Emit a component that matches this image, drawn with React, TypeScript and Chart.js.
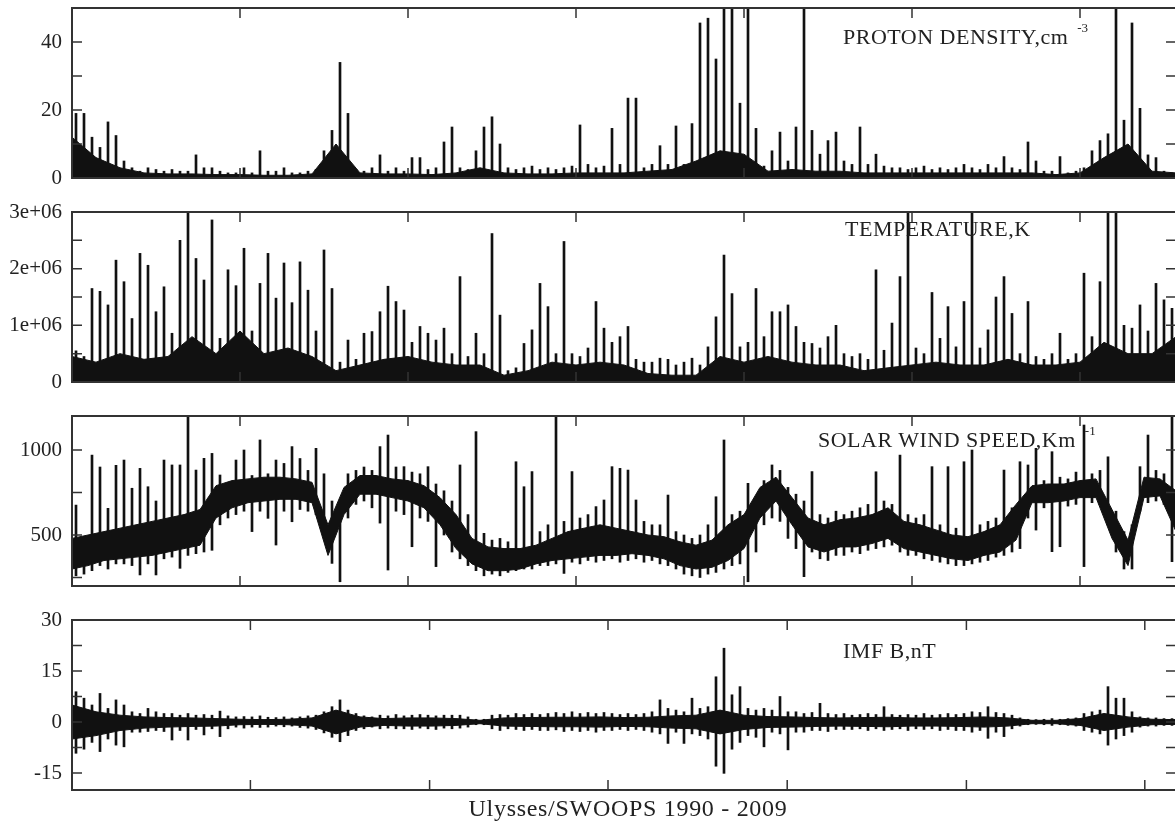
import React, { useEffect, useRef } from "react";
import { Chart, registerables } from "chart.js";

Chart.register(...registerables);

const FONT = '"Liberation Serif", "Times New Roman", serif';
const INK = "#111";
const FRAME = "#333";
const TEXT = "#222";

// x axis: 138 time bins across the mission (1990 - 2009)
const X_MAX = 138;
const X_TICKS_UPPER = [21, 42, 63, 84, 105, 126];
const X_TICKS_IMF = [22.3, 44.7, 67, 89.4, 111.8, 134.1];

// ---------------- PROTON DENSITY (cm^-3) ----------------
const DENSITY_PEAKS = [
  19, 19, 12, 9, 16.5, 12.5, 5, 3, 2, 3,
  2.5, 2, 2.5, 2, 2, 6.8, 3, 3, 2, 1.5,
  1.5, 3, 1.5, 8, 2, 2, 3, 1.5, 1.5, 2,
  2.5, 8, 14, 34, 19, 2.5, 2, 3, 6.8, 2,
  3, 2, 6, 6, 2.5, 3, 10.6, 15, 3, 2.5,
  8, 15, 18, 10, 3, 2.5, 3, 3.5, 2.5, 3,
  2.5, 3, 3.5, 15.6, 4, 3, 3.5, 14.6, 4, 23.5,
  23.5, 3, 4, 9.5, 4, 15.3, 4, 16, 45.6, 47,
  35, 55, 55, 22, 55, 14.6, 3.5, 8, 13.5, 5,
  15, 55, 14, 7, 11, 13.5, 5, 4, 15, 4,
  7, 3.5, 3, 3, 2.5, 3, 3.5, 2.5, 3, 2.5,
  3, 4, 3, 2.5, 4, 3, 6.3, 3, 2.5, 10.6,
  5, 2, 2, 6.3, 1.5, 2, 3, 8, 11, 13,
  55, 17, 45.6, 20.5, 6.8, 6, 2, 1.5,
];
const DENSITY_CORE = [
  12, 6, 3, 1.5, 1.2, 1.2, 1, 1, 0.8, 0.8,
  1.2, 10, 1.5, 1.2, 1.2, 1, 1.5, 3, 1.5, 1.2,
  1.2, 1.5, 1.5, 1.5, 2, 2.5, 5, 8, 7, 2,
  2.5, 2, 2, 1.5, 1.5, 1.5, 1.5, 1.5, 1.5, 1.5,
  1.5, 1, 1.5, 6, 10, 2, 1.5,
];
const DENSITY_Y_LABELS = [0, 20, 40];
const DENSITY_Y_TICKS = [10, 20, 30, 40];

// ---------------- TEMPERATURE (in units of 1e6 K) ----------------
const TEMP_PEAKS_MK = [
  0.55, 0.45, 1.65, 1.6, 1.36, 2.15, 1.77, 1.12, 2.27, 2.06,
  1.24, 1.68, 0.86, 2.5, 3.2, 2.18, 1.8, 2.86, 0.77, 1.98,
  1.7, 2.36, 0.9, 1.74, 2.27, 1.48, 2.1, 1.4, 2.12, 1.62,
  0.9, 2.33, 1.65, 0.35, 0.74, 0.4, 0.86, 0.89, 1.24, 1.69,
  1.42, 1.27, 0.7, 0.98, 0.86, 0.74, 0.95, 0.5, 1.86, 0.45,
  0.86, 0.5, 2.62, 1.18, 0.2, 0.25, 0.68, 0.92, 1.74, 1.33,
  0.5, 2.48, 0.5, 0.45, 0.6, 1.42, 0.95, 0.7, 0.8, 0.98,
  0.4, 0.35, 0.35, 0.42, 0.4, 0.3, 0.35, 0.42, 0.3, 0.62,
  1.15, 2.24, 1.56, 0.62, 0.7, 1.65, 0.8, 1.24, 1.24, 1.36,
  0.98, 0.7, 0.68, 0.6, 0.8, 1.0, 0.5, 0.45, 0.5, 0.4,
  1.98, 0.56, 1.04, 1.86, 3.2, 0.6, 0.5, 1.58, 0.77, 1.33,
  0.62, 1.42, 3.2, 0.6, 0.92, 1.5, 1.86, 1.21, 0.5, 1.42,
  0.45, 0.4, 0.5, 0.86, 0.4, 0.5, 1.92, 0.8, 1.77, 3.2,
  3.2, 1.0, 0.95, 1.36, 0.9, 1.74, 1.45, 1.3,
];
const TEMP_CORE_MK = [
  0.45, 0.35, 0.5, 0.4, 0.45, 0.8, 0.5, 0.9, 0.5, 0.6,
  0.45, 0.2, 0.3, 0.4, 0.45, 0.35, 0.3, 0.3, 0.12, 0.2,
  0.35, 0.3, 0.35, 0.3, 0.15, 0.12, 0.12, 0.45, 0.35, 0.45,
  0.35, 0.3, 0.3, 0.2, 0.25, 0.3, 0.35, 0.3, 0.3, 0.4,
  0.3, 0.3, 0.35, 0.7, 0.5, 0.5, 0.8,
];
const TEMP_Y_LABELS = [0, 1, 2, 3];
const TEMP_Y_TICKS = [0.5, 1, 1.5, 2, 2.5];

// ---------------- SOLAR WIND SPEED (km/s) ----------------
const SPEED_MAX = [
  676, 480, 970, 900, 657, 910, 941, 775, 892, 784,
  700, 941, 912, 912, 1250, 882, 951, 980, 853, 800,
  941, 1000, 850, 1059, 860, 941, 921, 1020, 950, 880,
  1010, 860, 700, 680, 860, 880, 900, 880, 1020, 1088,
  900, 902, 870, 860, 902, 800, 760, 700, 912, 620,
  1108, 510, 470, 480, 460, 931, 784, 873, 520, 560,
  1250, 580, 873, 600, 620, 667, 706, 902, 892, 882,
  706, 580, 560, 560, 735, 520, 500, 480, 500, 560,
  725, 1059, 620, 640, 804, 700, 820, 912, 880, 780,
  740, 700, 873, 620, 600, 640, 620, 640, 660, 680,
  872, 700, 680, 970, 620, 600, 620, 902, 560, 902,
  540, 931, 1000, 560, 580, 600, 882, 660, 931, 912,
  1010, 820, 990, 840, 830, 870, 1147, 860, 880, 960,
  640, 520, 560, 902, 1088, 880, 860, 1250,
];
const SPEED_MIN = [
  260, 270, 290, 320, 300, 330, 330, 320, 265, 330,
  265, 360, 370, 304, 380, 390, 400, 410, 560, 600,
  620, 640, 520, 640, 598, 441, 640, 578, 650, 640,
  620, 500, 333, 225, 600, 680, 700, 660, 570, 294,
  640, 620, 431, 600, 580, 314, 500, 400, 360, 320,
  290, 260, 270, 260, 280, 290, 300, 300, 320, 320,
  330, 274, 340, 330, 350, 340, 350, 360, 340, 350,
  360, 340, 350, 330, 320, 300, 270, 260, 250, 270,
  280, 300, 320, 330, 225, 400, 560, 600, 580, 480,
  420, 255, 400, 360, 350, 380, 380, 400, 390, 410,
  420, 430, 440, 400, 380, 380, 360, 350, 340, 330,
  320, 320, 330, 340, 350, 370, 380, 400, 420, 600,
  529, 660, 402, 431, 670, 680, 314, 690, 680, 560,
  400, 300, 300, 640, 690, 700, 680, 343,
];
const SPEED_CORE_LO = [
  300, 320, 350, 360, 370, 380, 400, 420, 440, 600,
  660, 690, 700, 710, 710, 690, 380, 620, 740, 740,
  720, 700, 660, 560, 420, 330, 290, 290, 300, 330,
  350, 360, 370, 380, 380, 390, 380, 360, 320, 300,
  310, 350, 420, 600, 700, 560, 430, 400, 430, 430,
  450, 480, 420, 400, 380, 360, 350, 380, 400, 470,
  690, 690, 700, 720, 720, 480, 320, 720, 730, 520,
];
const SPEED_CORE_HI = [
  480, 500, 520, 540, 560, 580, 600, 620, 650, 790,
  820, 830, 840, 840, 830, 810, 560, 780, 850, 850,
  830, 820, 790, 720, 620, 480, 430, 420, 420, 440,
  480, 520, 540, 560, 540, 520, 500, 490, 460, 440,
  470, 560, 620, 780, 840, 720, 600, 560, 590, 600,
  620, 660, 580, 560, 530, 500, 490, 520, 560, 680,
  790, 800, 800, 820, 830, 650, 470, 840, 830, 760,
];
const SPEED_Y_LABELS = [500, 1000];
const SPEED_Y_TICKS = [250, 500, 750, 1000];

// ---------------- IMF B (nT) ----------------
const IMF_MAX = [
  8.9, 7, 5, 8.4, 4, 6.5, 5, 3, 2.5, 4,
  3, 2.5, 2.5, 2, 2.5, 2, 2.2, 2, 3.2, 1.8,
  1.5, 1.6, 1.5, 1.8, 1.4, 1.3, 1.5, 1.2, 1.5, 1.8,
  2, 3, 4.5, 6.5, 3.5, 2.5, 1.8, 1.5, 2, 1.8,
  2.2, 1.8, 2, 2.2, 2, 1.8, 2, 2, 2, 1.5,
  0.8, 0.8, 2, 2.2, 2, 2.5, 2.2, 2.5, 2.2, 2.5,
  2.8, 2.5, 3, 2.5, 2.8, 2.5, 2.8, 2.5, 2.2, 2.5,
  2.2, 2.5, 3, 6.5, 4, 3.5, 3, 7, 4, 4.5,
  13.3, 21.7, 8, 10.4, 4, 3.5, 4, 3.5, 7.5, 3,
  3, 2.5, 2.8, 5.5, 2.5, 2.2, 2.5, 2, 2.2, 2.5,
  2.2, 4.5, 2.2, 2, 2.2, 2, 2.5, 2, 2.2, 2.5,
  2.2, 2.5, 3, 2.8, 4.5, 2.8, 2.5, 2, 1.2, 0.8,
  0.7, 0.8, 1, 0.8, 1, 1.2, 2.5, 3, 3.5, 10.4,
  7, 7, 3, 1.5, 1.2, 1.2, 1, 1,
];
const IMF_MIN = [
  -9.2, -8, -6, -8.7, -5, -6.8, -7.3, -3, -3, -2.8,
  -2.5, -2.8, -5.3, -2.5, -5.3, -2.2, -3.8, -2, -4.3, -2,
  -1.5, -1.8, -1.5, -1.6, -1.5, -1.2, -1.4, -1.2, -1.6, -1.8,
  -2.2, -3.2, -4.5, -5.8, -4, -2.5, -2, -1.5, -2, -1.8,
  -2, -2, -2.2, -1.8, -2, -2.2, -1.8, -2, -1.8, -1.5,
  -0.8, -0.8, -2, -2.5, -2, -2.2, -2.5, -2.2, -2.5, -2.5,
  -2.3, -2.8, -2.5, -2.8, -2.5, -3, -2.5, -2.5, -2.2, -2.5,
  -2.2, -2.5, -3, -3.5, -6.3, -3, -6.3, -3.5, -4, -5,
  -13, -15.1, -8, -6, -4, -4.5, -7.3, -3, -3.5, -8.2,
  -3, -3, -2.5, -2.5, -2.8, -2.2, -2.2, -2.2, -2, -2.5,
  -2, -2.5, -2.2, -2, -2.5, -2, -2.2, -2, -2.5, -2.2,
  -2.5, -2.5, -3, -2.5, -4.8, -3, -4.3, -2, -1.2, -0.8,
  -0.7, -0.8, -1, -0.8, -1, -1.2, -2.5, -3, -3.5, -6.8,
  -5, -4, -3, -1.5, -1.2, -1.2, -1, -1,
];
const IMF_CORE_HI = [
  5, 3, 2, 1.5, 1.3, 1.2, 1, 0.8, 0.7, 0.8,
  1.2, 3.5, 1.5, 1, 1.2, 1.2, 1, 0.5, 1.2, 1.3,
  1.4, 1.4, 1.5, 1.3, 1.4, 1.8, 2, 3.5, 2, 1.6,
  1.5, 1.3, 1.2, 1.3, 1.4, 1.2, 1.2, 1.3, 1.5, 1.2,
  0.5, 0.5, 1, 2.5, 1.5, 0.8, 0.7,
];
const IMF_CORE_LO = [
  -5, -4, -2.5, -1.8, -1.5, -1.3, -1.2, -0.8, -0.7, -0.8,
  -1.2, -3.5, -1.5, -1, -1.2, -1.2, -1, -0.5, -1.2, -1.3,
  -1.4, -1.4, -1.5, -1.3, -1.4, -1.8, -2, -3.5, -2.2, -1.6,
  -1.5, -1.3, -1.2, -1.3, -1.4, -1.2, -1.2, -1.3, -1.5, -1.2,
  -0.5, -0.5, -1, -2.5, -1.5, -0.8, -0.7,
];
const IMF_Y_LABELS = [-15, 0, 15, 30];
const IMF_Y_TICKS = [-15, -7.5, 0, 7.5, 15, 22.5];

// ---------------- layout ----------------
const CANVAS_W = 1180;
const PAD = 14;
const PLOT_H = 170;
const CANVAS_H = PLOT_H + 2 * PAD;
const AXIS_W = 72;
const PLOT_RIGHT = 1176;
const TICK_LEN = 10;

function gnuplotExp(mk: number): string {
  if (mk === 0) return "0";
  const s = (mk * 1e6).toExponential(0); // "1e+6"
  return s.replace(/e([+-])(\d)$/, "e$10$2");
}

type PanelSpec = {
  top: number;
  yMin: number;
  yMax: number;
  yLabels: number[];
  yTicks: number[];
  xTicks: number[];
  peaks: number[];
  troughs?: number[];
  coreStep: number;
  coreHi: number[];
  coreLo?: number[];
  fmt: (v: number) => string;
};

const PANELS: PanelSpec[] = [
  {
    top: 8, yMin: 0, yMax: 50, yLabels: DENSITY_Y_LABELS, yTicks: DENSITY_Y_TICKS,
    xTicks: X_TICKS_UPPER, peaks: DENSITY_PEAKS, coreStep: 3, coreHi: DENSITY_CORE,
    fmt: (v) => String(v),
  },
  {
    top: 212, yMin: 0, yMax: 3, yLabels: TEMP_Y_LABELS, yTicks: TEMP_Y_TICKS,
    xTicks: X_TICKS_UPPER, peaks: TEMP_PEAKS_MK, coreStep: 3, coreHi: TEMP_CORE_MK,
    fmt: gnuplotExp,
  },
  {
    top: 416, yMin: 200, yMax: 1200, yLabels: SPEED_Y_LABELS, yTicks: SPEED_Y_TICKS,
    xTicks: X_TICKS_UPPER, peaks: SPEED_MAX, troughs: SPEED_MIN, coreStep: 2,
    coreHi: SPEED_CORE_HI, coreLo: SPEED_CORE_LO, fmt: (v) => String(v),
  },
  {
    top: 620, yMin: -20, yMax: 30, yLabels: IMF_Y_LABELS, yTicks: IMF_Y_TICKS,
    xTicks: X_TICKS_IMF, peaks: IMF_MAX, troughs: IMF_MIN, coreStep: 3,
    coreHi: IMF_CORE_HI, coreLo: IMF_CORE_LO, fmt: (v) => String(v),
  },
];

function PanelChart({ spec }: { spec: PanelSpec }) {
  const ref = useRef<HTMLCanvasElement>(null);

  useEffect(() => {
    const canvas = ref.current;
    if (!canvas) return;

    const datasets: any[] = [];
    if (spec.coreLo) {
      datasets.push({
        type: "line",
        data: spec.coreLo.map((v, k) => ({ x: k * spec.coreStep, y: v })),
        borderColor: INK, borderWidth: 1, pointRadius: 0, fill: false, tension: 0,
      });
      datasets.push({
        type: "line",
        data: spec.coreHi.map((v, k) => ({ x: k * spec.coreStep, y: v })),
        borderColor: INK, backgroundColor: INK, borderWidth: 1, pointRadius: 0,
        fill: "-1", tension: 0,
      });
    } else {
      datasets.push({
        type: "line",
        data: spec.coreHi.map((v, k) => ({ x: k * spec.coreStep, y: v })),
        borderColor: INK, backgroundColor: INK, borderWidth: 1, pointRadius: 0,
        fill: "origin", tension: 0,
      });
    }
    // each bin's full extent (min .. max) as a thin vertical stroke
    datasets.push({
      type: "bar",
      data: spec.peaks.map((h, i) => ({
        x: i + 0.5,
        y: spec.troughs ? [spec.troughs[i], h] : [spec.yMin, h],
      })),
      backgroundColor: INK,
      borderWidth: 0,
      barThickness: 2,
      grouped: false,
    });

    const framePlugin = {
      id: "gnuframe",
      afterDatasetsDraw(chart: any) {
        const { ctx, chartArea: a, scales } = chart;
        const xs = scales.x;
        const ys = scales.y;
        ctx.save();
        ctx.strokeStyle = FRAME;
        ctx.lineWidth = 1.5;
        ctx.beginPath();
        for (const v of spec.yTicks) {
          const py = ys.getPixelForValue(v);
          ctx.moveTo(a.left, py);
          ctx.lineTo(a.left + TICK_LEN, py);
          ctx.moveTo(a.right, py);
          ctx.lineTo(a.right - TICK_LEN, py);
        }
        for (const v of spec.xTicks) {
          const px = xs.getPixelForValue(v);
          ctx.moveTo(px, a.top);
          ctx.lineTo(px, a.top + TICK_LEN);
          ctx.moveTo(px, a.bottom);
          ctx.lineTo(px, a.bottom - TICK_LEN);
        }
        ctx.stroke();
        // gnuplot border: left, top, bottom (right edge lies outside the figure)
        ctx.lineWidth = 2;
        ctx.beginPath();
        ctx.moveTo(a.right + 2, a.top);
        ctx.lineTo(a.left, a.top);
        ctx.lineTo(a.left, a.bottom);
        ctx.lineTo(a.right + 2, a.bottom);
        ctx.stroke();
        ctx.restore();
      },
    };

    const chart = new Chart(canvas, {
      type: "bar",
      data: { datasets },
      options: {
        animation: false,
        responsive: false,
        devicePixelRatio: 1,
        layout: { padding: { left: 0, right: CANVAS_W - PLOT_RIGHT, top: PAD, bottom: PAD } },
        plugins: { legend: { display: false }, tooltip: { enabled: false } },
        scales: {
          x: {
            type: "linear",
            min: 0,
            max: X_MAX,
            offset: false,
            display: false,
          },
          y: {
            min: spec.yMin,
            max: spec.yMax,
            afterFit: (s: any) => {
              s.width = AXIS_W;
              s.paddingTop = 0;
              s.paddingBottom = 0;
            },
            afterBuildTicks: (s: any) => {
              s.ticks = spec.yLabels.map((v) => ({ value: v }));
            },
            ticks: {
              autoSkip: false,
              padding: 10,
              color: TEXT,
              font: { family: FONT, size: 21 },
              callback: (v: any) => spec.fmt(Number(v)),
            },
            grid: { display: false, drawTicks: false },
            border: { display: false },
          },
        },
      } as any,
      plugins: [framePlugin],
    });
    return () => chart.destroy();
  }, [spec]);

  return (
    <canvas
      ref={ref}
      width={CANVAS_W}
      height={CANVAS_H}
      style={{ position: "absolute", left: 0, top: spec.top - PAD, width: CANVAS_W, height: CANVAS_H }}
    />
  );
}

const labelStyle: React.CSSProperties = {
  position: "absolute",
  fontFamily: FONT,
  fontSize: 22,
  lineHeight: 1,
  letterSpacing: "0.5px",
  color: TEXT,
  whiteSpace: "nowrap",
};
const supStyle: React.CSSProperties = {
  display: "inline-block",
  fontSize: 13,
  letterSpacing: 0,
  position: "relative",
  top: -12,
  marginLeft: 9,
};

export default function App() {
  return (
    <div
      style={{
        position: "fixed",
        left: 0,
        top: 0,
        width: 1175,
        height: 824,
        overflow: "hidden",
        background: "#fff",
      }}
    >
      {PANELS.map((p, i) => (
        <PanelChart key={i} spec={p} />
      ))}
      <div style={{ ...labelStyle, left: 843, top: 26 }}>
        PROTON DENSITY,cm<span style={supStyle}>-3</span>
      </div>
      <div style={{ ...labelStyle, left: 845, top: 218 }}>TEMPERATURE,K</div>
      <div style={{ ...labelStyle, left: 818, top: 429 }}>
        SOLAR WIND SPEED,Km<span style={supStyle}>-1</span>
      </div>
      <div style={{ ...labelStyle, left: 843, top: 640 }}>IMF B,nT</div>
      <div
        style={{
          ...labelStyle,
          fontSize: 24,
          letterSpacing: "0.7px",
          left: 628,
          top: 796,
          transform: "translateX(-50%)",
        }}
      >
        Ulysses/SWOOPS 1990 - 2009
      </div>
    </div>
  );
}
